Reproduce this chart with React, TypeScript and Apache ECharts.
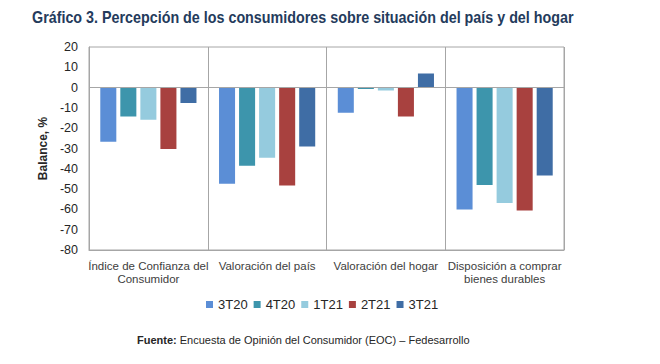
import React, { useEffect, useRef } from "react";
import * as echarts from "echarts";

const categories = [
  "Índice de Confianza del\nConsumidor",
  "Valoración del país",
  "Valoración del hogar",
  "Disposición a comprar\nbienes durables",
];
const seriesNames = ["3T20", "4T20", "1T21", "2T21", "3T21"];
const s3T20 = [-26.7, -47.4, -12.4, -60.0];
const s4T20 = [-14.2, -38.5, -0.7, -48.0];
const s1T21 = [-15.8, -34.6, -1.4, -56.8];
const s2T21 = [-30.3, -48.2, -14.2, -60.6];
const s3T21 = [-7.6, -29.0, 7.0, -43.3];
const seriesData = [s3T20, s4T20, s1T21, s2T21, s3T21];
const colors = ["#5B8ED6", "#3D95AC", "#95CBDE", "#A8413F", "#3F6DA5"];

const FONT = "'Liberation Sans', Arial, sans-serif";

export default function App() {
  const ref = useRef<HTMLDivElement>(null);
  useEffect(() => {
    document.body.style.margin = "0";
    if (!ref.current) return;
    const chart = echarts.init(ref.current, undefined, { renderer: "svg" });
    chart.setOption({
      animation: false,
      backgroundColor: "#ffffff",
      textStyle: { fontFamily: FONT },
      grid: {
        left: 89,
        right: 96,
        top: 47,
        bottom: 114,
        show: true,
        borderColor: "#A6A6A6",
        borderWidth: 1,
      },
      legend: {
        data: seriesNames,
        left: 201,
        top: 293,
        itemWidth: 7,
        itemHeight: 7,
        itemGap: 6,
        icon: "rect",
        textStyle: { fontSize: 13, color: "#262626", fontFamily: FONT },
      },
      xAxis: {
        type: "category",
        data: categories,
        axisLine: { onZero: false, lineStyle: { color: "#A6A6A6" } },
        axisTick: { show: false },
        splitLine: { show: true, lineStyle: { color: "#A6A6A6", width: 1 } },
        axisLabel: {
          color: "#404040",
          fontSize: 11.5,
          lineHeight: 13.5,
          margin: 9,
          interval: 0,
          fontFamily: FONT,
        },
      },
      yAxis: {
        type: "value",
        min: -80,
        max: 20,
        interval: 10,
        name: "Balance, %",
        nameLocation: "middle",
        nameGap: 33,
        nameRotate: 90,
        nameTextStyle: { fontSize: 12, fontWeight: "bold", color: "#262626", fontFamily: FONT },
        axisLine: { show: true, lineStyle: { color: "#A6A6A6" } },
        axisTick: { show: false },
        splitLine: { show: false },
        axisLabel: { color: "#262626", fontSize: 12.5, margin: 11, fontFamily: FONT },
      },
      series: seriesNames.map((name, i) => ({
        name,
        type: "bar",
        data: seriesData[i],
        barGap: "25%",
        barCategoryGap: "19%",
        itemStyle: { color: colors[i] },
        markLine:
          i === 0
            ? {
                silent: true,
                symbol: "none",
                label: { show: false },
                lineStyle: { color: "#A6A6A6", type: "solid", width: 1 },
                data: [{ yAxis: 0 }],
              }
            : undefined,
      })),
      graphic: [
        {
          type: "text",
          x: 32,
          y: 9,
          scaleX: 0.895,
          style: {
            text: "Gráfico 3. Percepción de los consumidores sobre situación del país y del hogar",
            fontFamily: FONT,
            fontSize: 16,
            fontWeight: "bold",
            fill: "#243B5C",
          },
        },
        {
          type: "text",
          left: 137,
          top: 334,
          style: {
            text: "{b|Fuente:} Encuesta de Opinión del Consumidor (EOC) – Fedesarrollo",
            fontSize: 11,
            fill: "#262626",
            fontFamily: FONT,
            rich: {
              b: { fontWeight: "bold", fontSize: 11, fill: "#262626", fontFamily: FONT },
            },
          },
        },
      ],
    });
    return () => chart.dispose();
  }, []);
  return <div ref={ref} style={{ width: 660, height: 364 }} />;
}
